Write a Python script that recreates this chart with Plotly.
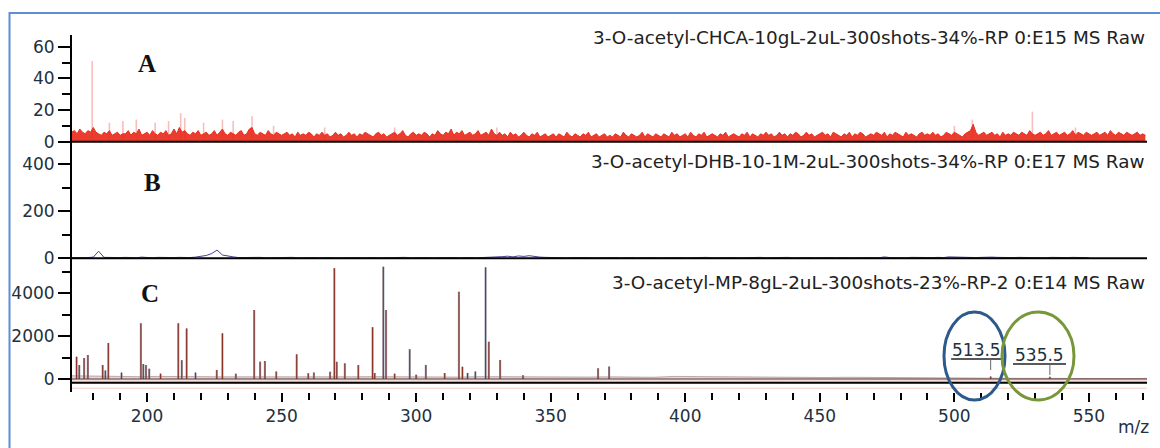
import plotly.graph_objects as go
from plotly.subplots import make_subplots

# ---------------- data ----------------
MZ_RANGE = [172.1, 571.6]
X_TICKS = [200, 250, 300, 350, 400, 450, 500, 550]

TITLES = [
    "3-O-acetyl-CHCA-10gL-2uL-300shots-34%-RP 0:E15 MS Raw",
    "3-O-acetyl-DHB-10-1M-2uL-300shots-34%-RP 0:E17 MS Raw",
    "3-O-acetyl-MP-8gL-2uL-300shots-23%-RP-2 0:E14 MS Raw",
]
LETTERS = ["A", "B", "C"]

# Panel A (CHCA): profile intensities sampled every 1 m/z from 172
A_MZ_START, A_MZ_STEP = 172, 1
A_INT = [
    6, 7, 5, 8, 6, 5, 7, 6, 9, 6, 5, 4, 6, 5, 7, 4, 5, 6, 4, 5,
    5, 7, 4, 6, 5, 8, 4, 5, 6, 4, 7, 5, 4, 6, 5, 7, 4, 5, 8, 5,
    9, 6, 7, 5, 4, 6, 5, 7, 4, 5, 6, 4, 5, 7, 4, 6, 8, 5, 4, 6,
    5, 4, 6, 7, 4, 5, 8, 9, 5, 4, 6, 5, 4, 7, 5, 4, 6, 5, 4, 5,
    6, 4, 5, 3, 6, 4, 5, 4, 6, 5, 3, 5, 4, 6, 4, 5, 3, 4, 6, 4,
    5, 3, 4, 6, 4, 5, 3, 5, 4, 6, 5, 4, 3, 5, 6, 4, 5, 3, 4, 5,
    6, 4, 5, 7, 4, 3, 5, 6, 4, 5, 4, 6, 5, 3, 5, 4, 7, 5, 4, 6,
    5, 8, 4, 6, 5, 7, 4, 5, 6, 4, 5, 7, 4, 5, 6, 4, 8, 5, 4, 6,
    4, 5, 3, 6, 4, 5, 3, 4, 6, 4, 3, 5, 4, 6, 3, 4, 5, 3, 4, 5,
    3, 5, 4, 3, 6, 4, 3, 5, 4, 3, 5, 4, 6, 3, 4, 5, 3, 4, 5, 3,
    4, 3, 5, 4, 3, 6, 4, 3, 5, 4, 3, 4, 6, 3, 5, 4, 3, 5, 4, 3,
    5, 4, 3, 6, 4, 5, 3, 4, 5, 3, 6, 4, 3, 5, 4, 6, 3, 4, 5, 4,
    3, 5, 4, 6, 3, 4, 5, 4, 3, 5, 4, 6, 3, 5, 4, 3, 5, 4, 6, 4,
    5, 3, 4, 6, 4, 5, 3, 5, 4, 6, 5, 3, 4, 6, 4, 5, 3, 4, 5, 6,
    4, 5, 3, 6, 5, 4, 3, 5, 4, 6, 3, 5, 4, 6, 5, 3, 4, 5, 4, 6,
    5, 4, 6, 3, 5, 4, 6, 5, 4, 3, 6, 4, 5, 4, 3, 5, 6, 4, 5, 4,
    6, 4, 5, 3, 4, 6, 5, 4, 6, 5, 4, 3, 5, 6, 7, 11, 6, 4, 5, 6,
    4, 5, 6, 4, 5, 3, 6, 4, 5, 4, 6, 5, 4, 6, 5, 4, 7, 5, 4, 5,
    6, 4, 5, 7, 4, 5, 6, 4, 5, 6, 4, 5, 7, 4, 6, 5, 4, 6, 5, 4,
    5, 6, 4, 5, 6, 4, 7, 5, 4, 6, 5, 4, 6, 5, 4, 5, 6, 4, 5, 4,
]
# faint (pale) spikes of panel A
A_FAINT_MZ = [179.6, 186, 191, 196, 203, 208, 212.5, 214, 221, 228, 232, 239,
              247, 266, 292, 330, 500, 506.7, 529, 545]
A_FAINT_INT = [51, 12, 13, 14, 12, 13, 18, 15, 12, 14, 13, 16,
               10, 9, 9, 9, 10, 14, 19, 9]

# Panel B (DHB): profile sampled every 2 m/z from 172
B_MZ_START, B_MZ_STEP = 172, 2
B_INT = [
    3, 2, 4, 3, 5, 30, 4, 3, 2, 3, 4, 3, 2, 5, 3, 2, 4, 3, 2, 3,
    4, 2, 3, 5, 8, 12, 20, 35, 14, 9, 6, 3, 4, 2, 3, 4, 2, 3, 4, 2,
    3, 4, 2, 3, 5, 3, 2, 4, 3, 2, 3, 4, 2, 3, 2, 4, 3, 2, 3, 4,
    2, 3, 4, 2, 3, 5, 3, 2, 3, 4, 2, 3, 2, 4, 3, 2, 3, 2, 4, 3,
    7, 9, 6, 10, 8, 11, 7, 5, 4, 3, 4, 3, 2, 3, 4, 2, 3, 2, 3, 4,
    2, 3, 2, 4, 3, 2, 3, 5, 3, 2, 3, 2, 4, 3, 2, 3, 2, 3, 4, 2,
    3, 2, 4, 3, 2, 3, 2, 3, 4, 2, 3, 2, 3, 4, 2, 3, 5, 3, 2, 3,
    2, 3, 2, 4, 3, 2, 3, 2, 4, 3, 2, 6, 3, 2, 3, 2, 4, 3, 2, 3,
    3, 4, 3, 6, 5, 4, 3, 2, 3, 4, 6, 5, 4, 3, 2, 3, 4, 3, 2, 3,
    3, 2, 4, 3, 2, 3, 4, 2, 3, 2,
]

# Panel C (MP): baseline every 8 m/z from 172, plus centroid peaks
C_BASE_START, C_BASE_STEP = 172, 8
C_BASE = [
    150, 130, 120, 110, 120, 100, 110, 100, 90, 110, 100,
    100, 90, 100, 110, 100, 90, 100, 90, 110, 100, 120,
    110, 100, 90, 100, 90, 80, 120, 110, 90, 80,
    80, 70, 80, 70, 80, 70, 70, 60, 70,
    30, 30, 40, 30, 30, 20, 30, 30, 20, 30,
]
C_PEAK_MZ = [173.8, 174.8, 176.6, 178.0, 183.5, 184.5, 185.6, 190.5, 197.7, 198.6,
             199.6, 200.8, 205.0, 211.6, 212.9, 214.7, 218.0, 225.9, 228.0, 233.0,
             239.8, 242.0, 243.8, 248.0, 255.6, 259.9, 262.0, 268.0, 269.6, 270.5,
             273.5, 278.5, 283.8, 284.6, 287.8, 288.8, 292.0, 297.6, 300.0, 303.6,
             310.6, 315.9, 317.2, 319.1, 322.0, 325.8, 327.0, 331.2, 339.7, 367.6,
             371.7, 513.5, 535.5]
C_PEAK_INT = [1040, 650, 980, 1120, 650, 400, 1680, 300, 2600, 700,
              650, 480, 250, 2600, 880, 2360, 300, 420, 2130, 250,
              3220, 810, 840, 350, 1150, 270, 300, 340, 5170, 800,
              730, 650, 2420, 280, 5240, 3220, 250, 1390, 200, 650,
              280, 4070, 570, 280, 350, 5210, 1740, 890, 180, 500,
              580, 120, 100]
C_LABEL_MZ = [513.5, 535.5]
C_LABEL_TXT = ["513.5", "535.5"]

# ---------------- helpers ----------------
W, H = 1160, 448
ML, MR, MT, MB = 72, 13, 35, 56
PW, PH = W - ML - MR, H - MT - MB


def px(x):
    return (x - ML) / PW


def py(y):
    return (H - MB - y) / PH


def grid(start, step, n):
    return [start + i * step for i in range(n)]


def sticks(mz, inten):
    xs, ys = [], []
    for m, v in zip(mz, inten):
        xs += [m, m, None]
        ys += [0, v, None]
    return xs, ys


TICK_FONT = dict(family="DejaVu Sans", size=17, color="#23303d")

fig = make_subplots(rows=3, cols=1, shared_xaxes=True, vertical_spacing=0)

# Panel A
ax_x = grid(A_MZ_START, A_MZ_STEP, len(A_INT))
fx, fy = sticks(A_FAINT_MZ, A_FAINT_INT)
fig.add_trace(go.Scatter(x=fx, y=fy, mode="lines",
                         line=dict(color="rgba(240,110,110,0.45)", width=1.6),
                         hoverinfo="skip"), row=1, col=1)
fig.add_trace(go.Scatter(x=ax_x, y=A_INT, mode="lines", fill="tozeroy",
                         line=dict(color="#e8301f", width=1),
                         fillcolor="rgba(232,40,25,0.9)"), row=1, col=1)

# Panel B
bx = grid(B_MZ_START, B_MZ_STEP, len(B_INT))
fig.add_trace(go.Scatter(x=bx, y=B_INT, mode="lines",
                         line=dict(color="#4a3f8a", width=1)), row=2, col=1)

# Panel C
cbx = grid(C_BASE_START, C_BASE_STEP, len(C_BASE))
fig.add_trace(go.Scatter(x=cbx, y=C_BASE, mode="lines", fill="tozeroy",
                         line=dict(color="rgba(150,120,120,0.6)", width=1),
                         fillcolor="rgba(170,150,150,0.35)"), row=3, col=1)
sx, sy = sticks(C_PEAK_MZ, C_PEAK_INT)
fig.add_trace(go.Scatter(x=sx, y=sy, mode="lines",
                         line=dict(color="rgba(130,145,170,0.8)", width=2.2)), row=3, col=1)
fig.add_trace(go.Scatter(x=sx, y=sy, mode="lines",
                         line=dict(color="#8a3224", width=1.1)), row=3, col=1)

# ---------------- axes ----------------
ranges = [[-0.82, 67.4], [-7.2, 488.8], [-607, 5554]]
dticks = [20, 200, 2000]
domains = [[py(143), 1.0], [py(260), py(143)], [0.0, py(260)]]
for i in range(3):
    fig.update_yaxes(row=i + 1, col=1, range=ranges[i], dtick=dticks[i],
                     domain=domains[i], showgrid=False, zeroline=False,
                     showline=True, linecolor="black", linewidth=2,
                     ticks="outside", ticklen=12, tickwidth=1.5, tickcolor="black",
                     minor=dict(dtick=dticks[i] / 2, ticks="outside", ticklen=8,
                                tickwidth=1.5, tickcolor="black"),
                     tickfont=TICK_FONT)
for i in range(2):
    fig.update_xaxes(row=i + 1, col=1, range=MZ_RANGE, showgrid=False,
                     zeroline=False, showticklabels=False, ticks="")
fig.update_xaxes(row=3, col=1, range=MZ_RANGE, showgrid=False, zeroline=False,
                 showline=False, tickvals=X_TICKS, ticks="outside", ticklen=9,
                 tickwidth=1.5, tickcolor="black",
                 minor=dict(dtick=10, tick0=0, ticks="outside", ticklen=7,
                            tickwidth=1.5, tickcolor="black"),
                 tickfont=TICK_FONT)

# ---------------- decorations ----------------
shapes = []
shapes.append(dict(type="line", xref="x", yref="y", x0=MZ_RANGE[0], x1=MZ_RANGE[1],
                   y0=0, y1=0, line=dict(color="black", width=2)))
shapes.append(dict(type="line", xref="x2", yref="y2", x0=MZ_RANGE[0], x1=MZ_RANGE[1],
                   y0=0, y1=0, line=dict(color="black", width=2)))
shapes.append(dict(type="rect", xref="x3", yref="y3", x0=MZ_RANGE[0], x1=MZ_RANGE[1],
                   y0=-173, y1=0, fillcolor="#f7dcd7", line=dict(width=0), layer="below"))
shapes.append(dict(type="line", xref="x3", yref="y3", x0=MZ_RANGE[0], x1=MZ_RANGE[1],
                   y0=0, y1=0, line=dict(color="#5a3a3a", width=1)))
shapes.append(dict(type="line", xref="x3", yref="y3", x0=MZ_RANGE[0], x1=MZ_RANGE[1],
                   y0=-173, y1=-173, line=dict(color="black", width=2)))
shapes.append(dict(type="line", xref="x3", yref="y3", x0=MZ_RANGE[0], x1=MZ_RANGE[1],
                   y0=-430, y1=-430, line=dict(color="#f3c9c2", width=1)))

label_geo = [  # text dx, text y, underline x0 dx, x1 dx, underline y, tick bottom
    (-5.1, 1353, -14.7, 4.6, 933, 420),
    (-3.7, 1120, -13.7, 6.0, 700, 187),
]
annotations = []
for mz, txt, g in zip(C_LABEL_MZ, C_LABEL_TXT, label_geo):
    dx, ty, u0, u1, uy, tb = g
    shapes.append(dict(type="line", xref="x3", yref="y3", x0=mz + u0, x1=mz + u1,
                       y0=uy, y1=uy, line=dict(color="#222", width=1.5)))
    shapes.append(dict(type="line", xref="x3", yref="y3", x0=mz, x1=mz,
                       y0=uy, y1=tb, line=dict(color="#666", width=1)))
    annotations.append(dict(x=mz + dx, y=ty, xref="x3", yref="y3", text=txt,
                            showarrow=False, font=TICK_FONT,
                            xanchor="center", yanchor="middle"))

shapes.append(dict(type="circle", xref="paper", yref="paper",
                   x0=px(944), x1=px(1005), y0=py(400), y1=py(312),
                   line=dict(color="#2c5a8c", width=3)))
shapes.append(dict(type="circle", xref="paper", yref="paper",
                   x0=px(1002), x1=px(1074), y0=py(400), y1=py(312),
                   line=dict(color="#77973a", width=3)))

shapes.append(dict(type="rect", xref="paper", yref="paper",
                   x0=px(9.5), x1=px(1175), y0=py(470), y1=py(13),
                   line=dict(color="#5b8fd3", width=2)))

title_y = [38, 161, 282.5]
letter_xy = [(147, 63), (152, 182.5), (150, 293)]
for t, ty, L, (lx, ly) in zip(TITLES, title_y, LETTERS, letter_xy):
    annotations.append(dict(x=1.0, y=py(ty), xref="paper", yref="paper", text=t,
                            showarrow=False, xanchor="right", yanchor="middle",
                            font=dict(family="DejaVu Sans", size=18.4, color="#222")))
    annotations.append(dict(x=px(lx), y=py(ly), xref="paper", yref="paper",
                            text="<b>" + L + "</b>", showarrow=False,
                            xanchor="center", yanchor="middle",
                            font=dict(family="Liberation Serif", size=25, color="#111")))
annotations.append(dict(x=px(1133), y=py(427), xref="paper", yref="paper", text="m/z",
                        showarrow=False, xanchor="center", yanchor="middle",
                        font=TICK_FONT))

fig.update_layout(width=W, height=H, margin=dict(l=ML, r=MR, t=MT, b=MB),
                  plot_bgcolor="white", paper_bgcolor="white", showlegend=False,
                  shapes=shapes, annotations=annotations)

fig.write_html("out.html", config={"displayModeBar": False},
               post_script="document.body.style.margin='0px';"
                           "document.body.style.overflow='hidden';")
